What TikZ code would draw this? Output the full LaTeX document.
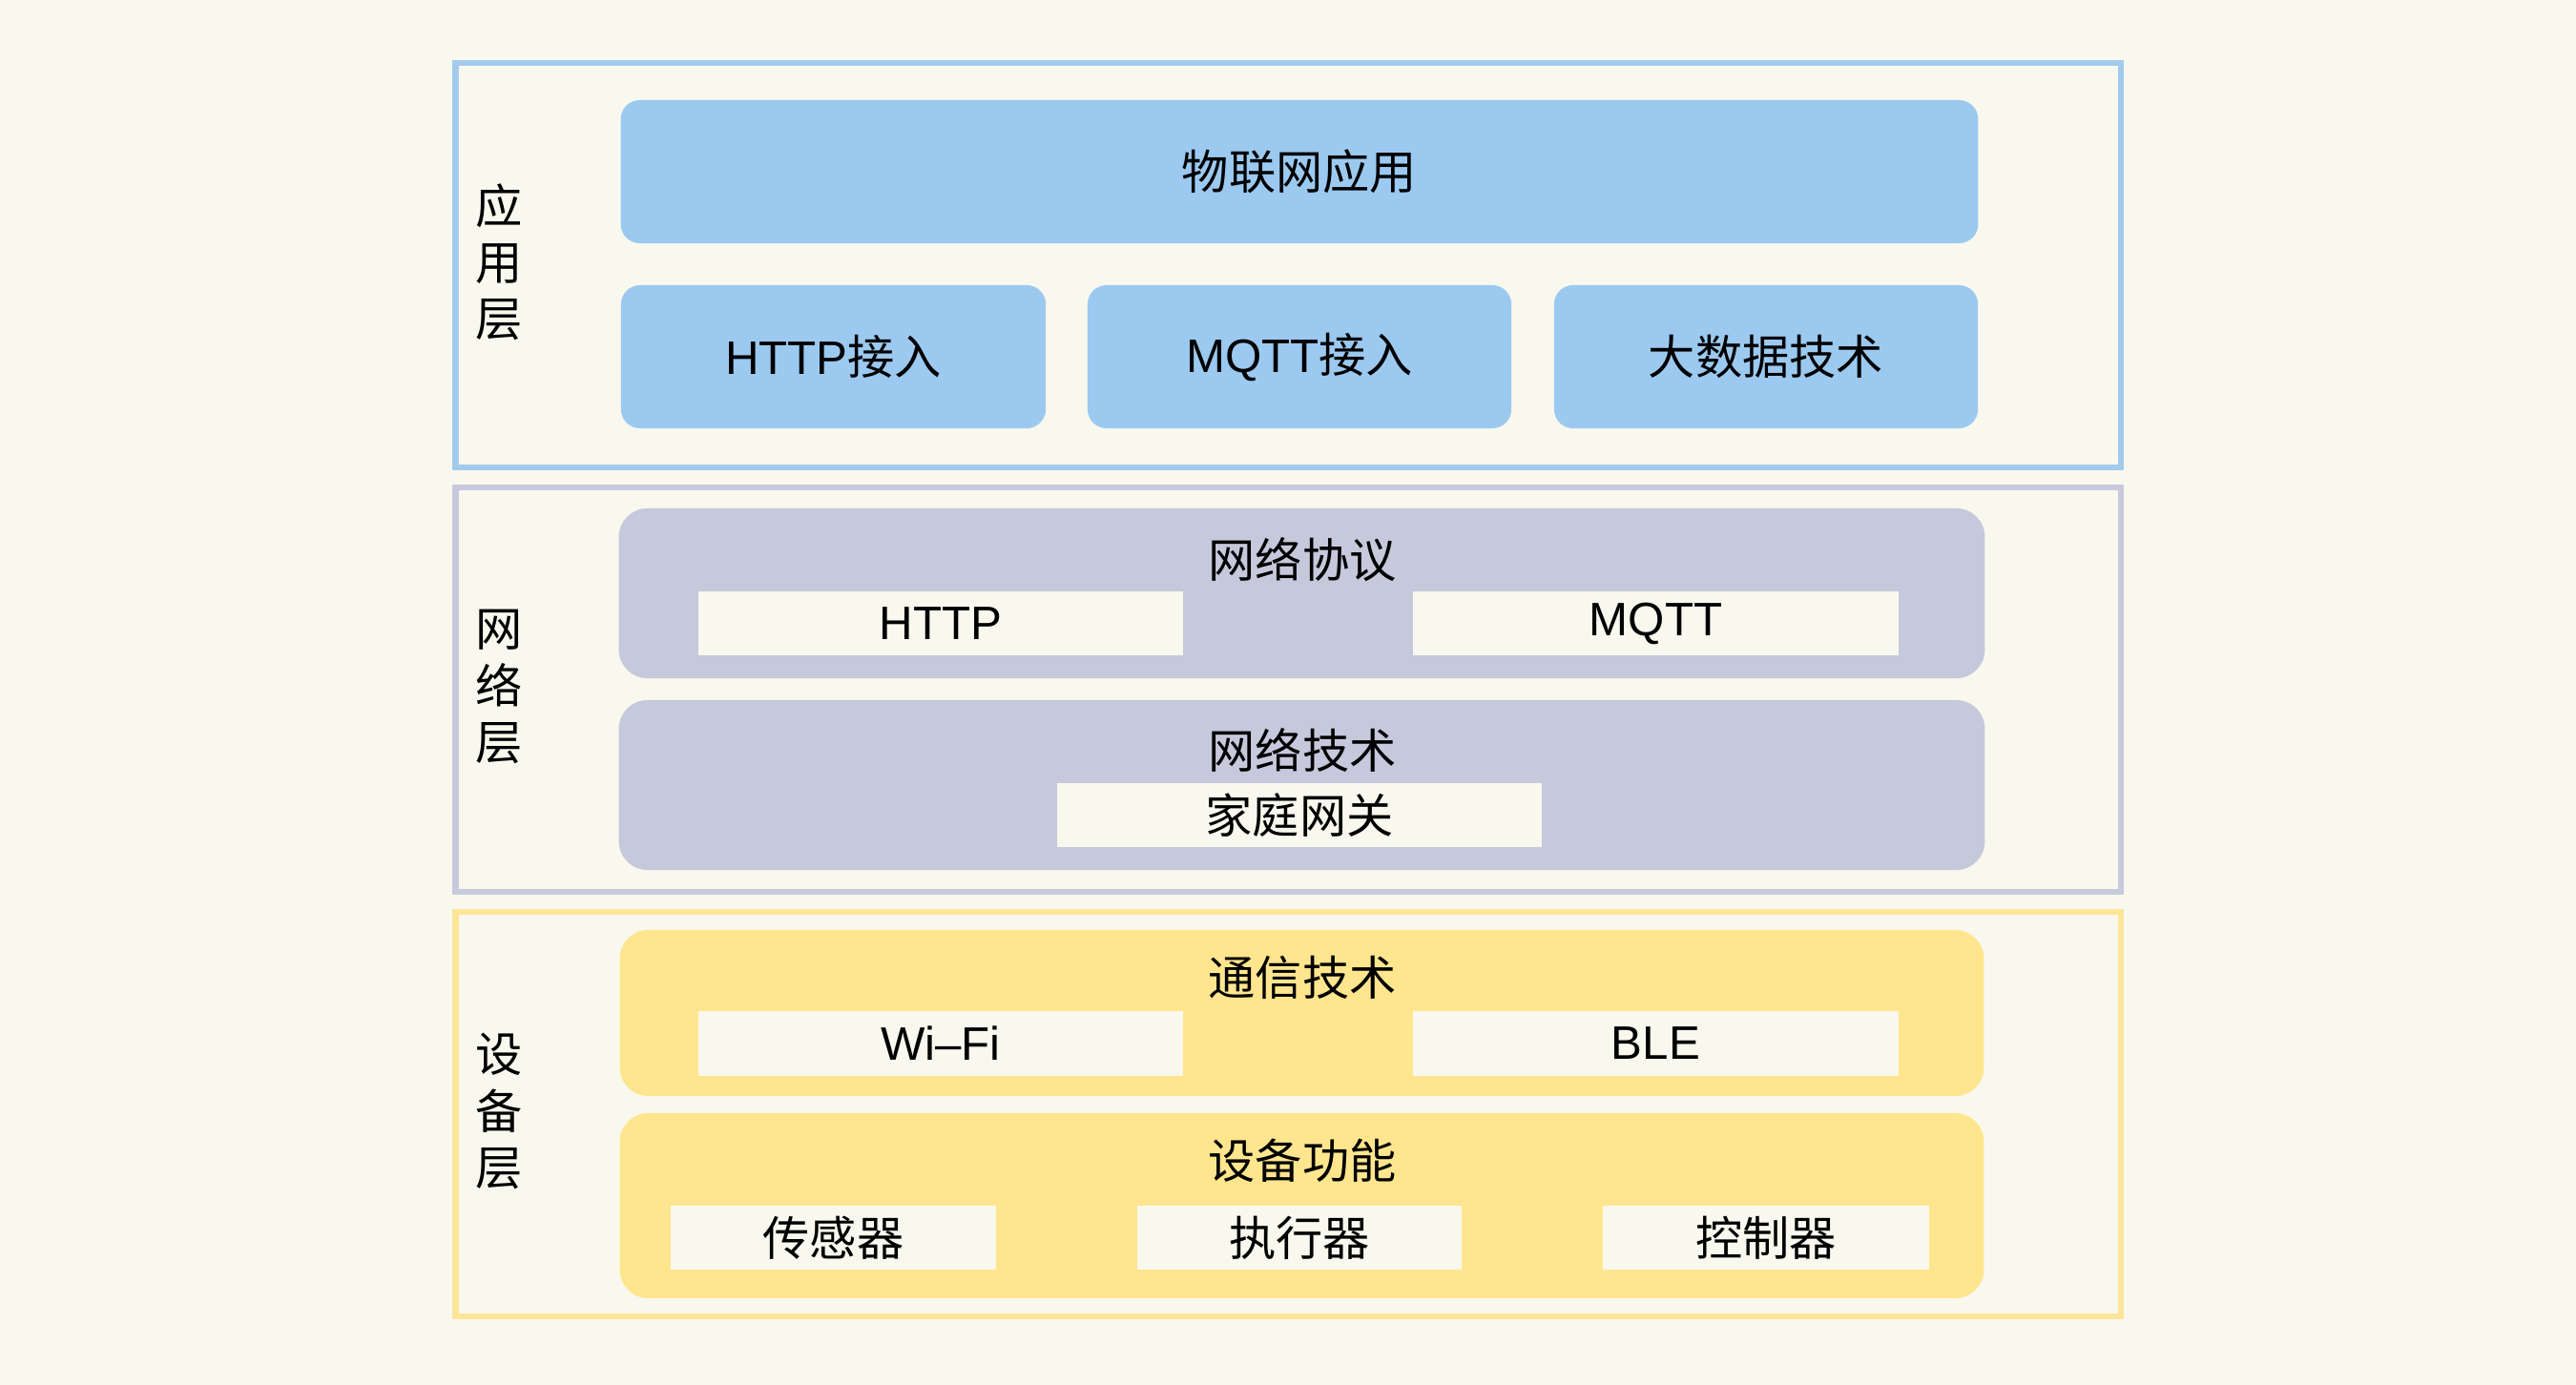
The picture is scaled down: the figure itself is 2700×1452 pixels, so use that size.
\documentclass[tikz,border=0pt]{standalone}
\usepackage{fontspec}
\setmainfont{Noto Sans CJK SC}
\newfontfamily\lat{Liberation Sans}
\definecolor{bg}{HTML}{F9F8EE}
\definecolor{blueB}{HTML}{A3CBEE}
\definecolor{blueF}{HTML}{9CC9F0}
\definecolor{lavB}{HTML}{C8C9DC}
\definecolor{lavF}{HTML}{C6C8DC}
\definecolor{yelB}{HTML}{FEE597}
\definecolor{yelF}{HTML}{FFE68E}
\begin{document}
\begin{tikzpicture}[x=0.01cm,y=-0.01cm,font=\fontsize{14pt}{16.8pt}\selectfont,
  layer/.style={line width=0.06cm,fill=bg,inner sep=0,outer sep=0,minimum width=17.44cm,minimum height=4.24cm},
  appbox/.style={fill=blueF,rounded corners=0.2cm,inner sep=0,outer sep=0,minimum height=1.5cm},
  netbox/.style={fill=lavF,rounded corners=0.3cm,inner sep=0,outer sep=0,minimum width=14.31cm,minimum height=1.78cm},
  devbox/.style={fill=yelF,rounded corners=0.3cm,inner sep=0,outer sep=0,minimum width=14.29cm},
  wbox/.style={fill=bg,inner sep=0,outer sep=0,minimum height=0.67cm,minimum width=5.08cm},
  title/.style={inner sep=0},
  side/.style={align=center,inner sep=0}]
\fill[bg] (0,0) rectangle (2700,1452);
\useasboundingbox (0,0) rectangle (2700,1452);

% application layer
\node[layer,draw=blueB] (app) at (1350,278) {};
\node[side] (appL) at (523,275) {应\\用\\层};
\node[appbox,minimum width=14.22cm] (iot) at (1362,180) {物联网应用};
\node[appbox,minimum width=4.45cm] (httpin) at (873.5,374) {{\lat HTTP}接入};
\node[appbox,minimum width=4.44cm] (mqttin) at (1362,374) {{\lat MQTT}接入};
\node[appbox,minimum width=4.44cm] (bigdata) at (1851,374) {大数据技术};

% network layer
\node[layer,draw=lavB,minimum height=4.23cm] (net) at (1350,723) {};
\node[side] (netL) at (523,720) {网\\络\\层};
\node[netbox] (proto) at (1364.5,622) {};
\node[title] (protoT) at (1365,587) {网络协议};
\node[wbox] (http) at (986,653.5) {\lat HTTP};
\node[wbox] (mqtt) at (1735.5,653.5) {\lat MQTT};
\node[netbox] (tech) at (1364.5,823) {};
\node[title] (techT) at (1365,786) {网络技术};
\node[wbox] (gw) at (1362,854.5) {家庭网关};

% device layer
\node[layer,draw=yelB] (dev) at (1350,1168) {};
\node[side] (devL) at (523,1165) {设\\备\\层};
\node[devbox,minimum height=1.74cm] (comm) at (1364.5,1062) {};
\node[title] (commT) at (1365,1025) {通信技术};
\node[wbox] (wifi) at (986,1094) {\lat Wi–Fi};
\node[wbox] (ble) at (1735.5,1094) {\lat BLE};
\node[devbox,minimum height=1.94cm] (func) at (1364.5,1264) {};
\node[title] (funcT) at (1365,1217) {设备功能};
\node[wbox,minimum width=3.41cm] (sensor) at (873.5,1297.5) {传感器};
\node[wbox,minimum width=3.40cm] (act) at (1362,1297.5) {执行器};
\node[wbox,minimum width=3.42cm] (ctrl) at (1851,1297.5) {控制器};
\end{tikzpicture}
\end{document}
